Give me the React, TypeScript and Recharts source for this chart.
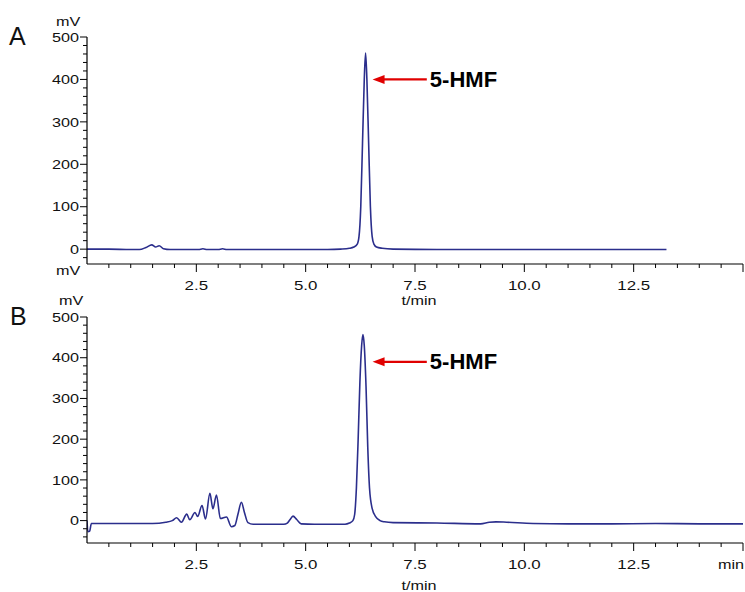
import React from 'react';
import { LineChart, Line, XAxis, YAxis, ReferenceLine, ReferenceDot } from 'recharts';

// retention times (min) and detector signal (mV)
const timeA = [0, 0.5, 1.0, 1.2, 1.35, 1.48, 1.57, 1.65, 1.75, 1.9, 2.2, 2.55, 2.65, 2.75, 3.0, 3.1, 3.2, 3.5, 4.5, 5.5, 5.8, 6.0, 6.1, 6.18, 6.22, 6.26, 6.3, 6.34, 6.37, 6.4, 6.44, 6.48, 6.52, 6.56, 6.62, 6.75, 7.0, 8.0, 10.0, 12.0, 13.25];
const mvA = [0, 0, -1, -1, 4, 10, 5, 8, 1, -1, -1, -1, 1, -1, -1, 1, -1, -1, -1, -1, 0, 2, 5, 12, 30, 100, 250, 400, 462, 400, 250, 100, 30, 12, 5, 2, 0, -1, -1, -1, -1];

const timeB = [0, 0.02, 0.06, 0.1, 0.3, 1.0, 1.5, 1.8, 1.95, 2.05, 2.16, 2.28, 2.35, 2.47, 2.53, 2.63, 2.71, 2.81, 2.88, 2.96, 3.05, 3.19, 3.3, 3.38, 3.45, 3.53, 3.6, 3.68, 3.8, 4.5, 4.58, 4.64, 4.71, 4.8, 4.9, 5.2, 5.9, 6.0, 6.08, 6.12, 6.16, 6.2, 6.24, 6.28, 6.31, 6.34, 6.38, 6.42, 6.46, 6.52, 6.6, 6.7, 6.8, 7.0, 8.0, 9.0, 9.2, 9.35, 9.6, 10.2, 11.0, 12.0, 13.0, 14.0, 15.0];
const mvB = [0, -27, -26, -7, -7, -7, -7, -4, 0, 7, -4, 16, 2, 20, 10, 37, 4, 67, 29, 63, 5, 9, -15, -12, 15, 45, 20, -5, -9, -9, -6, 2, 11, 2, -8, -9, -9, -6, 0, 15, 80, 200, 340, 430, 457, 430, 330, 180, 80, 30, 10, 0, -3, -5, -6, -8, -4, -3, -4, -7, -8, -8, -7, -8, -8];

const xTicks = [0.5, 1, 1.5, 2, 2.5, 3, 3.5, 4, 4.5, 5, 5.5, 6, 6.5, 7, 7.5, 8, 8.5, 9, 9.5, 10, 10.5, 11, 11.5, 12, 12.5, 13, 13.5, 14, 14.5, 15];
const xMajorLabels = ['2.5', '5.0', '7.5', '10.0', '12.5'];
const yTicksA = [-20, 0, 20, 40, 60, 80, 100, 120, 140, 160, 180, 200, 220, 240, 260, 280, 300, 320, 340, 360, 380, 400, 420, 440, 460, 480, 500];
const yTicksB = [-40, -20, 0, 20, 40, 60, 80, 100, 120, 140, 160, 180, 200, 220, 240, 260, 280, 300, 320, 340, 360, 380, 400, 420, 440, 460, 480, 500];

const dataA = timeA.map((t, i) => ({ t, mv: mvA[i] }));
const dataB = timeB.map((t, i) => ({ t, mv: mvB[i] }));

const FONT = 'Liberation Sans, Arial, sans-serif';
const TRACE = '#2b2e8c';
const RED = '#e00000';

const YTick = ({ x, y, payload }: any) => {
  const v = payload.value;
  const major = v % 100 === 0;
  return (
    <g>
      <line x1={x - (major ? 7 : 4)} x2={x} y1={y} y2={y} stroke="#000" strokeWidth={1} />
      {major && (
        <text transform={`translate(${x - 8},${y + 4.7}) scale(1.2,1)`} textAnchor="end" fontSize={13.5} fontFamily={FONT} fill="#111">
          {v}
        </text>
      )}
    </g>
  );
};

const makeXTick = (lastLabel: string) => ({ x, y, payload }: any) => {
  const v = payload.value;
  const idx = [2.5, 5, 7.5, 10, 12.5].indexOf(v);
  const major = idx >= 0 || v === 15;
  return (
    <g>
      <line x1={x} x2={x} y1={y} y2={y + (major ? 8 : 4)} stroke="#000" strokeWidth={1} />
      {idx >= 0 && (
        <text transform={`translate(${x},${y + 26}) scale(1.25,1)`} textAnchor="middle" fontSize={13.5} fontFamily={FONT} fill="#111">
          {xMajorLabels[idx]}
        </text>
      )}
      {v === 15 && lastLabel && (
        <text transform={`translate(${x + 1},${y + 26}) scale(1.2,1)`} textAnchor="end" fontSize={13.5} fontFamily={FONT} fill="#111">
          {lastLabel}
        </text>
      )}
    </g>
  );
};

const ArrowHead = ({ cx, cy }: any) => (
  <polygon points={`${cx},${cy} ${cx + 12},${cy - 4.5} ${cx + 12},${cy + 4.5}`} fill={RED} />
);

const PeakName = ({ cx, cy }: any) => (
  <text x={cx} y={cy + 7.5} fontSize={22} fontWeight="bold" fontFamily={FONT} fill="#000">5-HMF</text>
);

const Panel = ({ data, yTicks, domain, top, height, marginTop, xAxisHeight, arrowY, lastLabel }: any) => (
  <div style={{ position: 'absolute', left: 0, top }}>
    <LineChart width={745} height={height} data={data} margin={{ top: marginTop, right: 2, bottom: 0, left: 0 }}>
      <XAxis
        type="number"
        dataKey="t"
        domain={[0, 15]}
        ticks={xTicks}
        interval={0}
        height={xAxisHeight}
        tickSize={0}
        tickMargin={0}
        tickLine={false}
        axisLine={{ stroke: '#000', strokeWidth: 1.2 }}
        tick={makeXTick(lastLabel)}
        allowDataOverflow
      />
      <YAxis
        type="number"
        domain={domain}
        ticks={yTicks}
        interval={0}
        width={87}
        tickSize={0}
        tickMargin={0}
        tickLine={false}
        axisLine={{ stroke: '#000', strokeWidth: 1.2 }}
        tick={<YTick />}
        allowDataOverflow
      />
      <Line type="monotone" dataKey="mv" stroke={TRACE} strokeWidth={1.6} dot={false} isAnimationActive={false} />
      <ReferenceLine segment={[{ x: 6.7, y: arrowY }, { x: 7.77, y: arrowY }]} stroke={RED} strokeWidth={2.2} />
      <ReferenceDot x={6.53} y={arrowY} r={0} shape={<ArrowHead />} />
      <ReferenceDot x={7.84} y={arrowY} r={0} shape={<PeakName />} />
    </LineChart>
  </div>
);

const Label = ({ x, y, size, children, sx = 1 }: any) => (
  <text transform={`translate(${x},${y}) scale(${sx},1)`} fontSize={size} fontFamily={FONT} fill="#111">{children}</text>
);

export default function App() {
  return (
    <div style={{ position: 'absolute', left: 0, top: 0, width: 745, height: 592, background: '#fff', overflow: 'hidden' }}>
      <Panel data={dataA} yTicks={yTicksA} domain={[-35, 500]} top={0} height={300} marginTop={37} xAxisHeight={36} arrowY={400} lastLabel="" />
      <Panel data={dataB} yTicks={yTicksB} domain={[-55, 500]} top={280} height={312} marginTop={37} xAxisHeight={49} arrowY={390} lastLabel="min" />
      <svg width={745} height={592} style={{ position: 'absolute', left: 0, top: 0, pointerEvents: 'none' }}>
        <Label x={9} y={45} size={25}>A</Label>
        <Label x={10} y={325} size={25}>B</Label>
        <Label x={56} y={26} size={13.5} sx={1.2}>mV</Label>
        <Label x={56} y={275} size={13.5} sx={1.2}>mV</Label>
        <Label x={59} y={305} size={13.5} sx={1.2}>mV</Label>
        <text transform="translate(419,305) scale(1.2,1)" textAnchor="middle" fontSize={13.5} fontFamily={FONT} fill="#111">t/min</text>
        <text transform="translate(419,590) scale(1.2,1)" textAnchor="middle" fontSize={13.5} fontFamily={FONT} fill="#111">t/min</text>
      </svg>
    </div>
  );
}
